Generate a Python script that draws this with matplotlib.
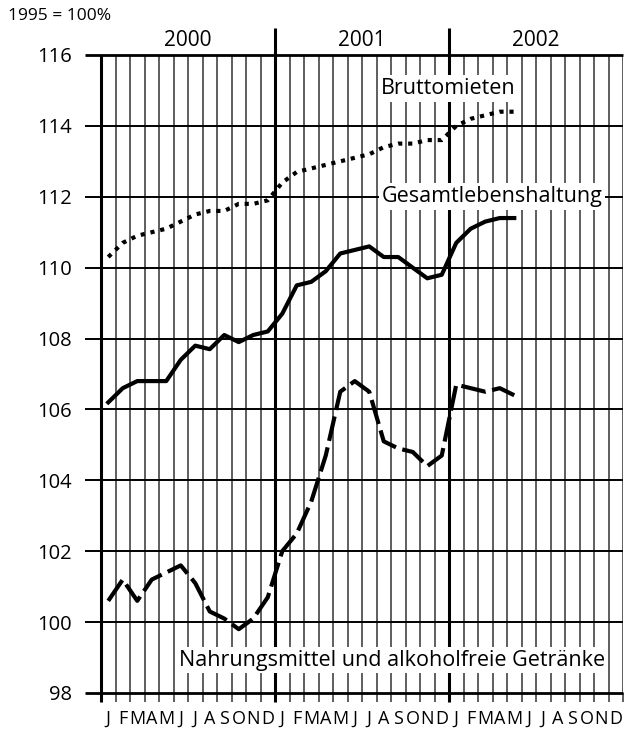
import matplotlib
matplotlib.use("Agg")
import matplotlib.pyplot as plt
import numpy as np

plt.rcParams['font.family'] = ['Open Sans', 'DejaVu Sans']

months = ["J", "F", "M", "A", "M", "J", "J", "A", "S", "O", "N", "D"] * 3
years = ["2000", "2001", "2002"]
yticks = [98, 100, 102, 104, 106, 108, 110, 112, 114, 116]

bruttomieten = [110.3, 110.7, 110.9, 111.0, 111.1, 111.3, 111.5, 111.6, 111.6, 111.8, 111.8, 111.9,
                112.4, 112.7, 112.8, 112.9, 113.0, 113.1, 113.2, 113.4, 113.5, 113.5, 113.6, 113.6,
                114.0, 114.2, 114.3, 114.4, 114.4]
gesamt = [106.2, 106.6, 106.8, 106.8, 106.8, 107.4, 107.8, 107.7, 108.1, 107.9, 108.1, 108.2,
          108.7, 109.5, 109.6, 109.9, 110.4, 110.5, 110.6, 110.3, 110.3, 110.0, 109.7, 109.8,
          110.7, 111.1, 111.3, 111.4, 111.4]
nahrung = [100.6, 101.2, 100.6, 101.2, 101.4, 101.6, 101.1, 100.3, 100.1, 99.8, 100.1, 100.7,
           102.0, 102.5, 103.4, 104.7, 106.5, 106.8, 106.5, 105.1, 104.9, 104.8, 104.4, 104.7,
           106.7, 106.6, 106.5, 106.6, 106.4]

W, H = 624, 729
fig = plt.figure(figsize=(W / 100, H / 100), dpi=100)
ax = fig.add_axes([101 / W, (H - 693) / H, (623 - 101) / W, (693 - 55) / H])
ax.set_xlim(0, 36)
ax.set_ylim(98, 116)
for s in ax.spines.values():
    s.set_visible(False)

# month grid lines
for m in range(1, 37):
    if m % 12 == 0 and m < 36:
        continue
    ax.plot([m, m], [98, 116], color='#333333', lw=1.1, zorder=1, solid_capstyle='butt')
# month ticks below
for m in range(0, 37):
    ax.plot([m, m], [98, 98 - 9 / 35.44], color='#333333', lw=1.1, clip_on=False,
            zorder=1, solid_capstyle='butt')
# year lines
for m in [12, 24]:
    ax.plot([m, m], [98 - 9 / 35.44, 116.76], color='black', lw=2.2, clip_on=False,
            zorder=2, solid_capstyle='butt')
ax.plot([0, 0], [98 - 9 / 35.44, 116], color='black', lw=2.2, clip_on=False,
        zorder=2, solid_capstyle='butt')
# horizontal lines
for y in yticks:
    ax.plot([-16 / 14.5, 36], [y, y], color='black', lw=1.4 if y not in (98, 116) else 2.0,
            clip_on=False, zorder=2, solid_capstyle='butt')

ax.set_yticks(yticks)
ax.set_yticklabels([str(v) for v in yticks], fontsize=14.5)
ax.tick_params(axis='y', length=0, pad=21)
x = np.arange(36) + 0.5
ax.set_xticks(x)
ax.set_xticklabels(months, fontsize=13)
ax.tick_params(axis='x', length=0, pad=12)

for i, yr in enumerate(years):
    ax.text(6 + 12 * i, 116.395, yr, ha='center', va='center', fontsize=15)

xs = np.arange(len(gesamt)) + 0.5
ax.plot(xs, bruttomieten, color='black', lw=3, linestyle=(0, (1, 1.4)),
        dash_capstyle='butt', zorder=4)
ax.plot(xs, gesamt, color='black', lw=3, zorder=4, solid_joinstyle='round')
ax.plot(xs, nahrung, color='black', lw=3, linestyle=(0, (6, 1.6)),
        dash_capstyle='butt', zorder=4)

bb = dict(facecolor='white', edgecolor='none', pad=2)
ax.text(23.93, 115.06, "Bruttomieten", ha='center', va='center', fontsize=15.5, bbox=bb, zorder=5)
ax.text(26.97, 112.0, "Gesamtlebenshaltung", ha='center', va='center', fontsize=15.5, bbox=bb, zorder=5)
ax.text(20.07, 98.93, "Nahrungsmittel und alkoholfreie Getränke", ha='center', va='center',
        fontsize=15.5, bbox=bb, zorder=5)

fig.text(8 / W, 1 - 16 / H, "1995 = 100%", ha='left', va='center', fontsize=12.5)

fig.savefig("out.png", dpi=100)
